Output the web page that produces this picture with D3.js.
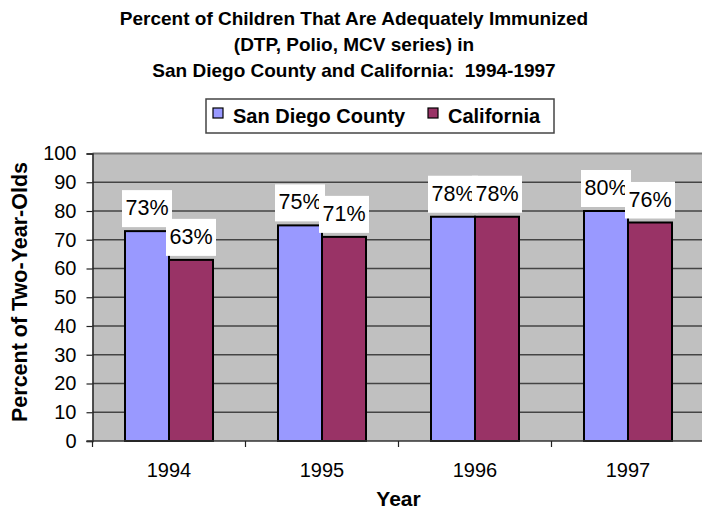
<!DOCTYPE html>
<html lang="en">
<head>
    <meta charset="UTF-8">
    <title>Immunization</title>
    <script src="https://cdn.jsdelivr.net/npm/d3@7"></script>
    <style>
        body { margin: 0; background: #fff; }
        text { font-family: "Liberation Sans", Arial, sans-serif; }
    </style>
</head>
<body>
<script>
    const years = ['1994', '1995', '1996', '1997']
    const seriesNames = ['San Diego County', 'California']
    const sanDiego = [73, 75, 78, 80]
    const california = [63, 71, 78, 76]
    const yTicks = [0, 10, 20, 30, 40, 50, 60, 70, 80, 90, 100]
    const titleLines = [
        'Percent of Children That Are Adequately Immunized',
        '(DTP, Polio, MCV series) in',
        'San Diego County and California:  1994-1997'
    ]
    const colors = ['#9999ff', '#993366']

    const [width, height] = [702, 512]
    const plot = {left: 92.5, right: 704.5, top: 153.5, bottom: 441}

    const svg = d3.select('body').append('svg')
        .attr('width', width)
        .attr('height', height)

    const x = d3.scaleBand().domain(years).range([plot.left, plot.right])
    const groupW = 88
    const xs = d3.scaleBand().domain(seriesNames).range([0, groupW])
    const y = d3.scaleLinear().domain([0, 100]).range([plot.bottom, plot.top])

    // title
    svg.append('g').selectAll('text').data(titleLines).enter()
        .append('text')
        .attr('x', 354)
        .attr('y', (d, i) => 25 + i * 26)
        .attr('text-anchor', 'middle')
        .attr('font-size', 19)
        .attr('font-weight', 'bold')
        .style('white-space', 'pre')
        .text(d => d)

    // plot background
    svg.append('rect')
        .attr('x', plot.left).attr('y', plot.top)
        .attr('width', plot.right - plot.left)
        .attr('height', plot.bottom - plot.top)
        .attr('fill', '#c0c0c0')

    // gridlines
    svg.append('g').selectAll('line').data(yTicks.filter(d => d > 0)).enter()
        .append('line')
        .attr('x1', plot.left).attr('x2', plot.right)
        .attr('y1', d => y(d)).attr('y2', d => y(d))
        .attr('stroke', d => d === 100 ? '#777' : '#444')
        .attr('stroke-width', d => d === 100 ? 2 : 1.5)

    // y axis
    const yAxis = svg.append('g')
        .attr('transform', `translate(${plot.left},0)`)
        .call(d3.axisLeft(y).tickValues(yTicks).tickSize(6).tickPadding(10))
    yAxis.select('.domain').attr('stroke', '#222').attr('stroke-width', 1.5)
    yAxis.selectAll('.tick line').attr('stroke', '#222').attr('stroke-width', 1.2)
    yAxis.selectAll('.tick text')
        .attr('font-size', 20)
        .attr('font-family', '"Liberation Sans", Arial, sans-serif')
        .attr('fill', '#000')

    // bars
    const series = [sanDiego, california]
    const groups = svg.append('g').selectAll('g').data(years).enter()
        .append('g')
        .attr('transform', d => `translate(${x(d) + (x.bandwidth() - groupW) / 2},0)`)
    groups.selectAll('rect')
        .data((d, i) => seriesNames.map((s, j) => ({s, v: series[j][i], c: colors[j]})))
        .enter().append('rect')
        .attr('x', d => xs(d.s))
        .attr('y', d => y(d.v))
        .attr('width', xs.bandwidth())
        .attr('height', d => y(0) - y(d.v))
        .attr('fill', d => d.c)
        .attr('stroke', '#000')
        .attr('stroke-width', 2)

    // x axis
    svg.append('line')
        .attr('x1', plot.left - 6).attr('x2', plot.right)
        .attr('y1', plot.bottom).attr('y2', plot.bottom)
        .attr('stroke', '#333').attr('stroke-width', 1.5)
    svg.append('g').selectAll('line').data(years.concat(['end'])).enter()
        .append('line')
        .attr('x1', d => d === 'end' ? plot.right : x(d))
        .attr('x2', d => d === 'end' ? plot.right : x(d))
        .attr('y1', plot.bottom).attr('y2', plot.bottom + 6)
        .attr('stroke', '#222').attr('stroke-width', 1.2)
    const xAxis = svg.append('g')
        .attr('transform', `translate(0,${plot.bottom})`)
        .call(d3.axisBottom(x).tickSize(0).tickPadding(22))
    xAxis.select('.domain').remove()
    xAxis.selectAll('.tick text')
        .attr('font-size', 20)
        .attr('font-family', '"Liberation Sans", Arial, sans-serif')
        .attr('fill', '#000')

    // value labels
    const labels = groups.selectAll('g.label')
        .data((d, i) => seriesNames.map((s, j) => ({s, v: series[j][i]})))
        .enter().append('g').attr('class', 'label')
        .attr('transform', d => `translate(${xs(d.s) + xs.bandwidth() / 2},${y(d.v) - 4})`)
    labels.append('rect')
        .attr('x', -25).attr('y', -37)
        .attr('width', 50).attr('height', 37)
        .attr('fill', '#fff')
    labels.append('text')
        .attr('y', -12)
        .attr('text-anchor', 'middle')
        .attr('font-size', 21.5)
        .text(d => d.v + '%')

    // axis titles
    svg.append('text')
        .attr('x', (plot.left + plot.right) / 2)
        .attr('y', 506)
        .attr('text-anchor', 'middle')
        .attr('font-size', 21)
        .attr('font-weight', 'bold')
        .text('Year')
    svg.append('text')
        .attr('transform', 'translate(27,292) rotate(-90)')
        .attr('text-anchor', 'middle')
        .attr('font-size', 21.5)
        .attr('font-weight', 'bold')
        .text('Percent of Two-Year-Olds')

    // legend
    const legend = svg.append('g')
    legend.append('rect')
        .attr('x', 206).attr('y', 99)
        .attr('width', 348).attr('height', 34)
        .attr('fill', '#fff')
        .attr('stroke', '#444').attr('stroke-width', 1.5)
    const legendX = [213, 428]
    const items = legend.selectAll('g.item').data(seriesNames).enter()
        .append('g').attr('class', 'item')
        .attr('transform', (d, i) => `translate(${legendX[i]},108)`)
    items.append('rect')
        .attr('width', 10).attr('height', 10)
        .attr('fill', (d, i) => colors[i])
        .attr('stroke', '#000').attr('stroke-width', 1.2)
    items.append('text')
        .attr('x', 20).attr('y', 15)
        .attr('font-size', 20)
        .attr('font-weight', 'bold')
        .text(d => d)
</script>
</body>
</html>
